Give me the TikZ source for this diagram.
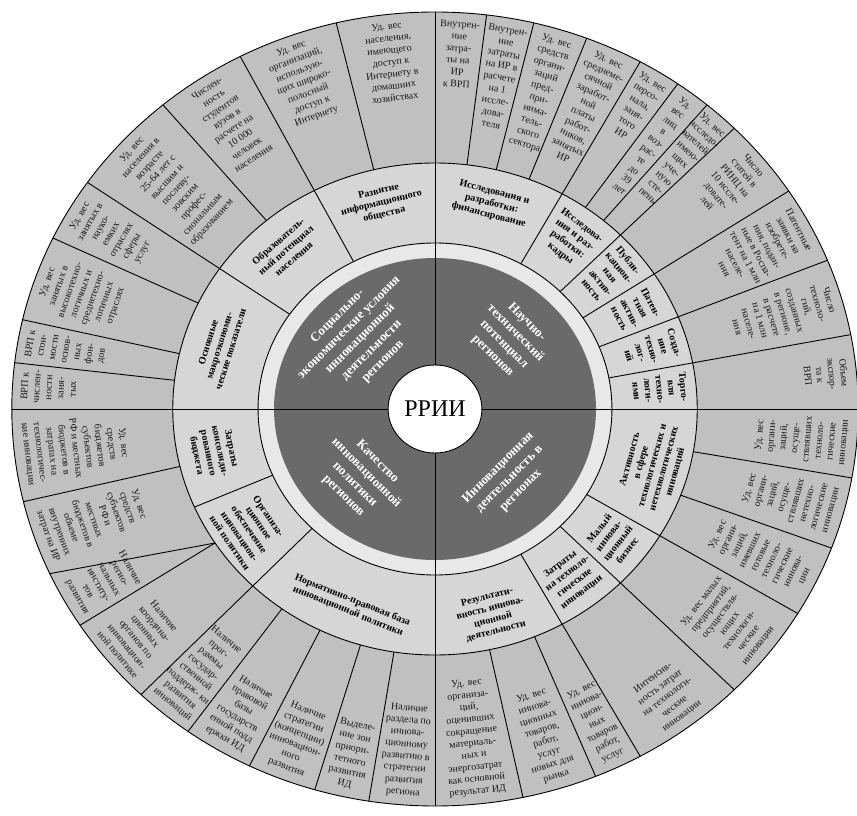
\documentclass[tikz,border=0pt]{standalone}
\usepackage{fontspec}
\setmainfont{Liberation Serif}
\definecolor{ringdark}{RGB}{106,106,106}
\definecolor{ringthin}{RGB}{232,232,232}
\definecolor{ringmid}{RGB}{214,214,214}
\definecolor{ringout}{RGB}{192,192,192}
\newcommand\OTU[3]{\node[otxt,oup=#2] (#1) at (#2:389) {#3};}
\newcommand\OTD[3]{\node[otxt,odn=#2] (#1) at (#2:389) {#3};}
\newcommand\MTU[3]{\node[mtxt,rotate=#2-90] (#1) at (#2:212) {#3};}
\newcommand\MTD[3]{\node[mtxt,rotate=#2+90] (#1) at (#2:212) {#3};}
\begin{document}
\begin{tikzpicture}[x=1pt,y=1pt,
  otxt/.style={align=center, inner sep=0pt, text=black!90, font=\fontsize{10}{12}\selectfont},
  mtxt/.style={align=center, inner sep=0pt, text=black, font=\bfseries\fontsize{10}{11.8}\selectfont},
  dtxt/.style={align=center, inner sep=0pt, text=white, font=\bfseries\fontsize{13}{16}\selectfont},
  oup/.style={anchor=north, rotate=#1-90},
  odn/.style={anchor=south, rotate=#1+90},
  spoke/.style={line width=0.9pt, black},
  ringline/.style={line width=0.9pt, black}]
\useasboundingbox (0,0) rectangle (857,815);
\fill[white] (0,0) rectangle (857,815);
\begin{scope}[shift={(435,406)}, x=1.066pt]
  % rings
  \fill[ringout] (0,0) circle[radius=397];
  \fill[ringmid] (0,0) circle[radius=246];
  \fill[ringthin] (0,0) circle[radius=166];
  \fill[ringdark] (0,0) circle[radius=151];
  \fill[white] (0,0) circle[radius=44];
  % cross
  \foreach \a in {0,90,180,270} \draw[spoke] (\a:44) -- (\a:397);
  % mid ring spokes
  \foreach \a in {61,45,33.3,22,10.8,117.4,145.2,203.5,226,299,315,329}
    \draw[spoke] (\a:166) -- (\a:246);
  % outer ring spokes
  \foreach \a in {83,76.5,69,61,55,50,45,33.3,22,10.8,
                  103.5,117.4,130,145.2,154.5,167,173.3,
                  193.5,213,226,234.3,244,253.5,261,
                  282,292.3,299,315,329,339.5,350}
    \draw[spoke] (\a:246) -- (\a:397);
  \draw[spoke] (204.5:397) -- (213:246);
  % circle lines
  \draw[ringline] (0,0) circle[radius=397];
  \draw[ringline] (0,0) circle[radius=246];
  \draw[ringline] (0,0) circle[radius=166];
  \draw[ringline] (0,0) circle[radius=44];
  % center
  \node[font=\fontsize{24}{28}\selectfont] (c) at (0,0) {РРИИ};
  % dark ring
  \node[dtxt, rotate=45] (d1) at (135:99) {Социально-\\экономические условия\\инновационной\\деятельности\\регионов};
  \node[dtxt, rotate=-45] (d2) at (45:99) {Научно-\\технический\\потенциал\\регионов};
  \node[dtxt, rotate=45] (d3) at (315:99) {Инновационная\\деятельность в\\регионах};
  \node[dtxt, rotate=-45] (d4) at (225:99) {Качество\\инновационной\\политики\\регионов};
  % mid ring: top right
  \MTU{m1}{75.5}{Исследования и\\разработки:\\финансирование}
  \MTU{m2}{53}{Исследова-\\ния и раз-\\работки:\\кадры}
  \MTU{m3}{39.2}{Публи-\\кацион-\\ная\\актив-\\ность}
  \MTU{m4}{27.7}{Патен-\\тная\\актив-\\ность}
  \MTU{m5}{16.4}{Созда-\\ние\\техно-\\лог-\\ий}
  \MTU{m6}{5.4}{Торго-\\вля\\техно-\\логи-\\ями}
  % mid ring: top left
  \MTU{n1}{103.7}{Развитие\\информационного\\общества}
  \MTU{n2}{131.3}{Образователь-\\ный потенциал\\населения}
  \MTU{n3}{162.6}{Основные\\макроэкономи-\\ческие показатели}
  % mid ring: bottom left
  \MTD{k1}{191.7}{Затраты\\консолиди-\\рованного\\бюджета}
  \MTD{k2}{214.7}{Организа-\\ционное\\обеспечение\\инновацион-\\ной политики}
  \MTD{k3}{248}{Нормативно-правовая база\\инновационной политики}
  % mid ring: bottom right
  \MTD{p1}{284.5}{Результати-\\вность иннова-\\ционной\\деятельности}
  \MTD{p2}{307}{Затраты\\на техноло-\\гические\\инновации}
  \MTD{p3}{322}{Малый\\иннова-\\ционный\\бизнес}
  \MTD{p4}{344.5}{Активность\\в сфере\\технологических и\\нетехнологических\\инноваций}
  % outer ring: top right
  \OTU{o1}{86.5}{Внутрен-\\ние\\затра-\\ты на\\ИР\\к ВРП}
  \OTU{o2}{79.75}{Внутрен-\\ние\\затраты\\на ИР в\\расчете\\на 1\\иссле-\\дова-\\теля}
  \OTU{o3}{72.75}{Уд. вес\\средств\\органи-\\заций\\пред-\\при-\\нима-\\тель-\\ского\\сектора}
  \OTU{o4}{65}{Уд. вес\\среднеме-\\сячной\\заработ-\\ной\\платы\\работ-\\ников,\\занятых\\ИР}
  \OTU{o5}{58}{Уд. вес\\персо-\\нала,\\заня-\\того\\ИР}
  \OTU{o6}{52.5}{Уд.\\вес\\лиц\\в\\воз-\\рас-\\те\\до\\39\\лет}
  \OTU{o7}{47.5}{Уд. вес\\исследо-\\вателей,\\имею-\\щих\\уче-\\ную\\сте-\\пень}
  \OTU{o8}{39.2}{Число\\статей в\\РИНЦ на\\10 иссле-\\довате-\\лей}
  \OTU{o9}{27.7}{Патентные\\заявки на\\изобрете-\\ния, подан-\\ные в Роспа-\\тент на 1 млн\\населе-\\ния}
  \OTU{o10}{16.4}{Число\\техноло-\\гий,\\созданных\\в регионе,\\в расчете\\на 1 млн\\населе-\\ния}
  \OTU{o11}{5.4}{Объем\\экспор-\\та к\\ВРП}
  % outer ring: top left
  \OTU{t1}{96.75}{Уд. вес\\населения,\\имеющего\\доступ к\\Интернету в\\домашних\\хозяйствах}
  \OTU{t2}{110.5}{Уд. вес\\организаций,\\использую-\\щих широко-\\полосный\\доступ к\\Интернету}
  \OTU{t3}{123.7}{Числен-\\ность\\студентов\\вузов в\\расчете на\\10 000\\человек\\населения}
  \OTU{t4}{137.6}{Уд. вес\\населения в\\возрасте\\25-64 лет с\\высшим и\\послеву-\\зовским\\профес-\\сиональным\\образованием}
  \OTU{t5}{149.9}{Уд. вес\\занятых в\\науко-\\емких\\отраслях\\сферы\\услуг}
  \OTU{t6}{160.75}{Уд. вес\\занятых в\\высокотехно-\\логичных и\\среднетехно-\\логичных\\отраслях}
  \OTU{t7}{170.2}{ВРП к\\стои-\\мости\\основ-\\ных\\фон-\\дов}
  \OTU{t8}{176.6}{ВРП к\\числен-\\ности\\заня-\\тых}
  % outer ring: bottom left
  \OTD{b1}{186.75}{Уд. вес\\средств\\бюджетов\\субъектов\\РФ и местных\\бюджетов в\\затратах на\\технологичес-\\кие инновации}
  \OTD{b2}{199.3}{Уд. вес\\средств\\субъектов\\РФ и\\местных\\бюджетов в\\объеме\\внутренних\\затрат на ИР}
  \OTD{b3}{209.3}{Наличие\\регио-\\нальных\\институ-\\тов\\развития}
  \OTD{b4}{219.5}{Наличие\\координа-\\ционных\\органов по\\инновацион-\\ной политике}
  \OTD{b5}{230.2}{Наличие\\прог-\\раммы\\государ-\\ственной\\поддерж- ки\\развития\\инноваций}
  \OTD{b6}{239.2}{Наличие\\правовой\\базы\\государств\\енной подд\\ержки ИД}
  \OTD{b7}{248.75}{Наличие\\стратегии\\(концепции)\\инновацион-\\ного\\развития}
  \OTD{b8}{257.25}{Выделе-\\ние зон\\приори-\\тетного\\развития\\ИД}
  \OTD{b9}{265.5}{Наличие\\раздела по\\иннова-\\ционному\\развитию в\\стратегии\\развития\\региона}
  % outer ring: bottom right
  \OTD{r1}{276}{Уд. вес\\организа-\\ций,\\оценивших\\сокращение\\материаль-\\ных и\\энергозатрат\\как основной\\результат ИД}
  \OTD{r2}{287.2}{Уд. вес\\иннова-\\ционных\\товаров,\\работ,\\услуг\\новых для\\рынка}
  \OTD{r3}{295.7}{Уд. вес\\иннова-\\цион-\\ных\\товаров\\работ,\\услуг}
  \OTD{r4}{307}{Интенсив-\\ность затрат\\на технологи-\\ческие\\инновации}
  \OTD{r5}{322}{Уд. вес малых\\предприятий,\\осуществля-\\ющих\\технологи-\\ческие\\инновации}
  \OTD{r6}{334.2}{Уд. вес\\органи-\\заций,\\имевших\\готовые\\техноло-\\гические\\иннова-\\ции}
  \OTD{r7}{344.75}{Уд. вес\\органи-\\заций,\\осуще-\\ствлявших\\нетехно-\\логические\\инновации}
  \OTD{r8}{355}{Уд. вес\\органи-\\заций,\\осуще-\\ствлявших\\техноло-\\гические\\инновации}
\end{scope}
\end{tikzpicture}
\end{document}
